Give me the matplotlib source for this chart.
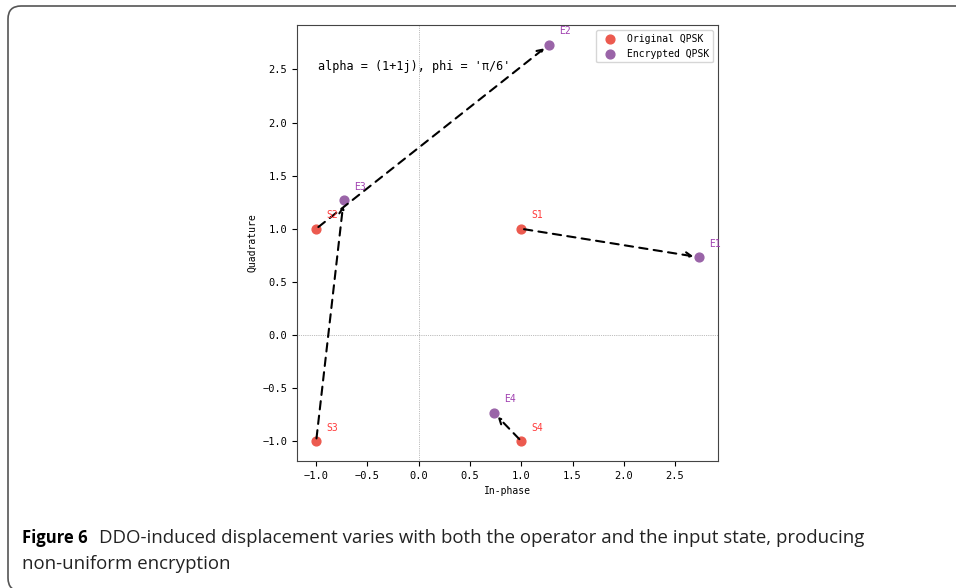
import matplotlib.pyplot as plt
from matplotlib.patches import FancyBboxPatch

# -------- data --------
orig_labels = ['S1', 'S2', 'S3', 'S4']
orig_i = [1.0, -1.0, -1.0, 1.0]
orig_q = [1.0, 1.0, -1.0, -1.0]

enc_labels = ['E1', 'E2', 'E3', 'E4']
enc_i = [2.732, 1.268, -0.732, 0.732]
enc_q = [0.732, 2.732, 1.268, -0.732]

# which encrypted point each original maps to
pairs = [(0, 0), (1, 1), (2, 2), (3, 3)]

red = '#ec5a4f'
purple = '#9a64a8'
mono = 'DejaVu Sans Mono'

fig = plt.figure(figsize=(9.56, 5.88), dpi=100)

# rounded frame around figure + caption (open on the right)
frame = FancyBboxPatch((0.08, -0.03), 10.0, 5.85,
                       boxstyle='round,pad=0,rounding_size=0.13',
                       transform=fig.dpi_scale_trans, fill=False,
                       edgecolor='#555555', lw=1.2)
fig.patches.append(frame)

ax = fig.add_axes([0.3107, 0.216, 0.4404, 0.7415])

ax.axhline(0, color='gray', lw=0.5, ls=':')
ax.axvline(0, color='gray', lw=0.5, ls=':')

ax.scatter(orig_i, orig_q, s=40, color=red, label='Original QPSK', zorder=3)
ax.scatter(enc_i, enc_q, s=40, color=purple, label='Encrypted QPSK', zorder=3)

for si, ei in pairs:
    ax.annotate('', xy=(enc_i[ei], enc_q[ei]), xytext=(orig_i[si], orig_q[si]),
                arrowprops=dict(arrowstyle='->', ls=(0, (4, 3)), color='black',
                                lw=1.5, shrinkA=2, shrinkB=4))

for lab, x, y in zip(orig_labels, orig_i, orig_q):
    ax.text(x + 0.1, y + 0.1, lab, color='#ff3b3b', fontsize=7, family=mono)
for lab, x, y in zip(enc_labels, enc_i, enc_q):
    ax.text(x + 0.1, y + 0.1, lab, color='#a040b0', fontsize=7, family=mono)

ax.text(0.05, 0.905, "alpha = (1+1j), phi = 'π/6'", transform=ax.transAxes,
        fontsize=8.5, family=mono, va='center')

ax.set_xlabel('In-phase', fontsize=7, family=mono)
ax.set_ylabel('Quadrature', fontsize=7, family=mono)
ax.tick_params(labelsize=7.5)
for t in ax.get_xticklabels() + ax.get_yticklabels():
    t.set_family(mono)
for s in ax.spines.values():
    s.set_color('#444444')

ax.legend(loc='upper right', prop={'family': mono, 'size': 7})

# caption
fig.text(0.023, 0.0765, 'Figure 6', fontsize=12, fontweight='bold',
         family='Open Sans', va='baseline')
fig.text(0.1036, 0.0765,
         'DDO-induced displacement varies with both the operator and the input state, producing',
         fontsize=13.4, family='Open Sans', va='baseline', color='#222222')
fig.text(0.023, 0.032, 'non-uniform encryption', fontsize=13.4,
         family='Open Sans', va='baseline', color='#222222')

fig.savefig('out.png', dpi=100)
